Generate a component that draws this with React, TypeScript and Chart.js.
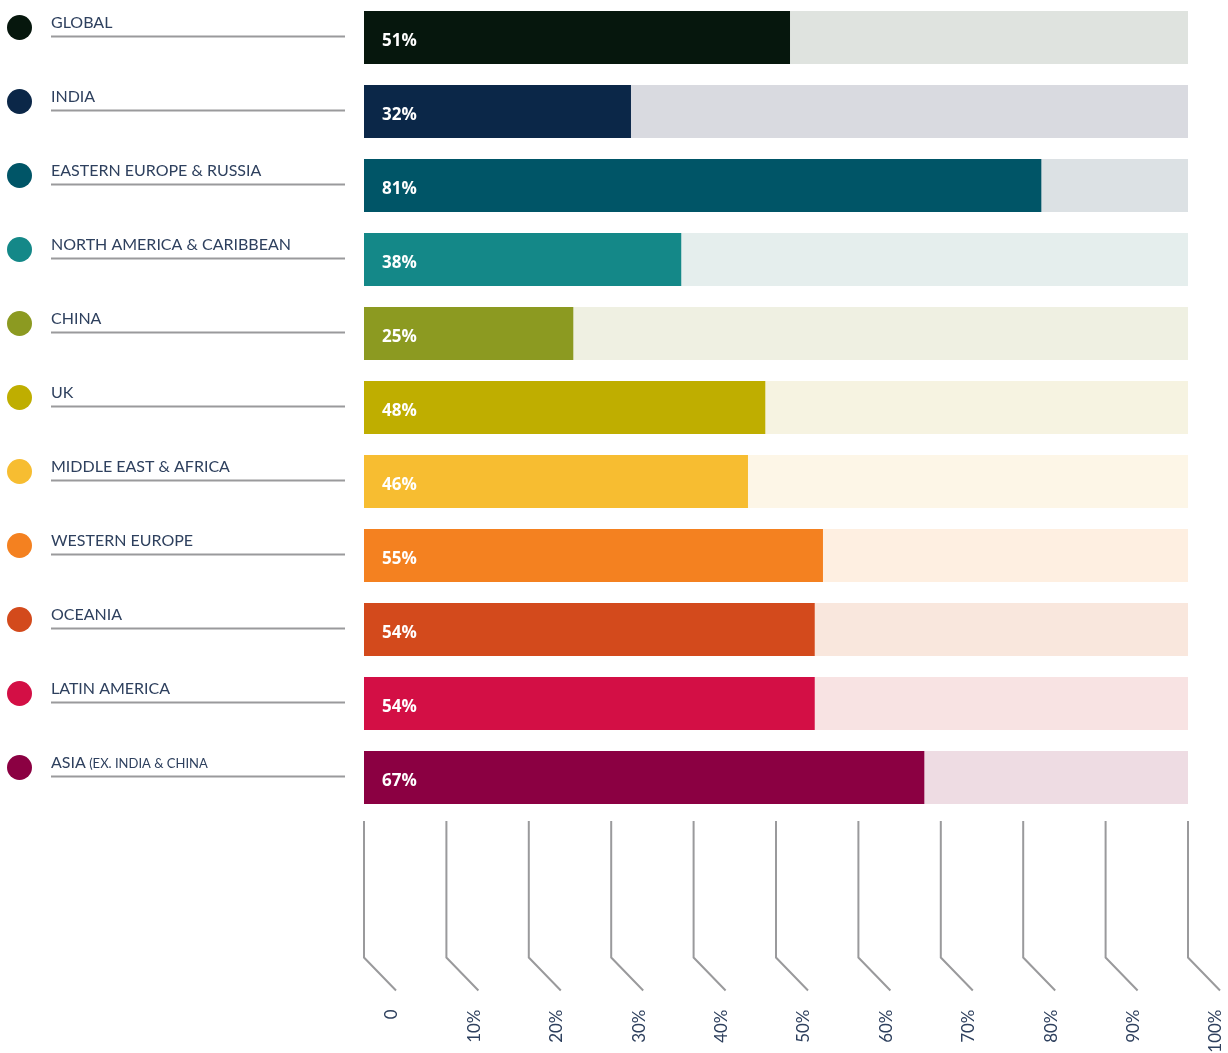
import React, { useEffect, useRef } from "react";
import { Chart, registerables } from "chart.js";

Chart.register(...registerables);

const categories = [
  "GLOBAL",
  "INDIA",
  "EASTERN EUROPE & RUSSIA",
  "NORTH AMERICA & CARIBBEAN",
  "CHINA",
  "UK",
  "MIDDLE EAST & AFRICA",
  "WESTERN EUROPE",
  "OCEANIA",
  "LATIN AMERICA",
  "ASIA",
];
const categorySuffix = ["", "", "", "", "", "", "", "", "", "", " (EX. INDIA & CHINA"];

const values = [51.7, 32.4, 82.2, 38.5, 25.4, 48.7, 46.6, 55.7, 54.7, 54.7, 68.0];
const valueLabels = ["51%", "32%", "81%", "38%", "25%", "48%", "46%", "55%", "54%", "54%", "67%"];
const totals = [100, 100, 100, 100, 100, 100, 100, 100, 100, 100, 100];

const barColors = [
  "#06170d",
  "#0b2748",
  "#005567",
  "#148888",
  "#8c9a21",
  "#bfae00",
  "#f7bd31",
  "#f48120",
  "#d34a1c",
  "#d30f45",
  "#8b0042",
];
const trackColors = [
  "#dfe3df",
  "#d9dae0",
  "#dce1e4",
  "#e5eeed",
  "#eff0e2",
  "#f6f3e1",
  "#fdf6e7",
  "#feefe1",
  "#f9e7dd",
  "#f8e3e3",
  "#eedce3",
];

const tickValues = [0, 10, 20, 30, 40, 50, 60, 70, 80, 90, 100];
const tickLabels = ["0", "10%", "20%", "30%", "40%", "50%", "60%", "70%", "80%", "90%", "100%"];

const TEXT_COLOR = "#2e405e";
const LINE_COLOR = "#9a9a9c";
const FONT = "Lato, 'Open Sans', sans-serif";
const BOLD_FONT = "'Open Sans', Lato, sans-serif";

const decorPlugin = {
  id: "decor",
  afterDraw(chart: any) {
    const ctx = chart.ctx;
    const x = chart.scales.x;
    const y = chart.scales.y;
    const area = chart.chartArea;
    ctx.save();

    // left legend rows
    categories.forEach((name, i) => {
      const cy = y.getPixelForValue(i);
      // dot
      ctx.beginPath();
      ctx.fillStyle = barColors[i];
      ctx.arc(19.5, cy - 10, 12.5, 0, Math.PI * 2);
      ctx.fill();
      // text
      ctx.fillStyle = TEXT_COLOR;
      ctx.textBaseline = "alphabetic";
      ctx.textAlign = "left";
      ctx.font = `400 16px ${FONT}`;
      ctx.fillText(name, 51, cy - 9.5);
      if (categorySuffix[i]) {
        const w = ctx.measureText(name).width;
        ctx.font = `400 13px ${FONT}`;
        ctx.fillText(categorySuffix[i], 51 + w, cy - 9.5);
      }
      // underline
      ctx.strokeStyle = LINE_COLOR;
      ctx.lineWidth = 2;
      ctx.beginPath();
      ctx.moveTo(51, cy - 1);
      ctx.lineTo(345, cy - 1);
      ctx.stroke();

      // value label in bar
      ctx.fillStyle = "#ffffff";
      ctx.font = `700 17px ${BOLD_FONT}`;
      ctx.textBaseline = "middle";
      ctx.fillText(valueLabels[i], area.left + 18, cy + 3.5);
    });

    // bottom ticks
    const top = area.bottom + 6.5;
    const bend = area.bottom + 143;
    tickValues.forEach((v, i) => {
      const tx = x.getPixelForValue(v);
      ctx.strokeStyle = LINE_COLOR;
      ctx.lineWidth = 2;
      ctx.beginPath();
      ctx.moveTo(tx, top);
      ctx.lineTo(tx, bend);
      ctx.lineTo(tx + 32, bend + 33);
      ctx.stroke();

      ctx.save();
      ctx.translate(tx + 28, bend + 52);
      ctx.rotate(-Math.PI / 2);
      ctx.fillStyle = TEXT_COLOR;
      ctx.font = `400 17px ${FONT}`;
      ctx.textAlign = "right";
      ctx.textBaseline = "middle";
      ctx.fillText(tickLabels[i], 0, 0);
      ctx.restore();
    });

    ctx.restore();
  },
};

export default function App() {
  const ref = useRef<HTMLCanvasElement | null>(null);

  useEffect(() => {
    if (!ref.current) return;
    const chart = new Chart(ref.current, {
      type: "bar",
      data: {
        labels: categories,
        datasets: [
          {
            data: values,
            backgroundColor: barColors,
            grouped: false,
            barPercentage: 1,
            categoryPercentage: 53 / 74,
            order: 0,
          } as any,
          {
            data: totals,
            backgroundColor: trackColors,
            grouped: false,
            barPercentage: 1,
            categoryPercentage: 53 / 74,
            order: 1,
          } as any,
        ],
      },
      options: {
        indexAxis: "y",
        responsive: false,
        animation: false,
        events: [],
        layout: { padding: { left: 364, right: 40, top: 0.5, bottom: 238.5 } },
        plugins: { legend: { display: false }, tooltip: { enabled: false } },
        scales: {
          x: { display: false, min: 0, max: 100 },
          y: { display: false },
        },
      },
      plugins: [decorPlugin],
    });
    return () => chart.destroy();
  }, []);

  return (
    <div style={{ position: "absolute", left: 0, top: 0, width: 1228, height: 1053, background: "#fff" }}>
      <canvas ref={ref} width={1228} height={1053} style={{ width: 1228, height: 1053, display: "block" }} />
    </div>
  );
}
